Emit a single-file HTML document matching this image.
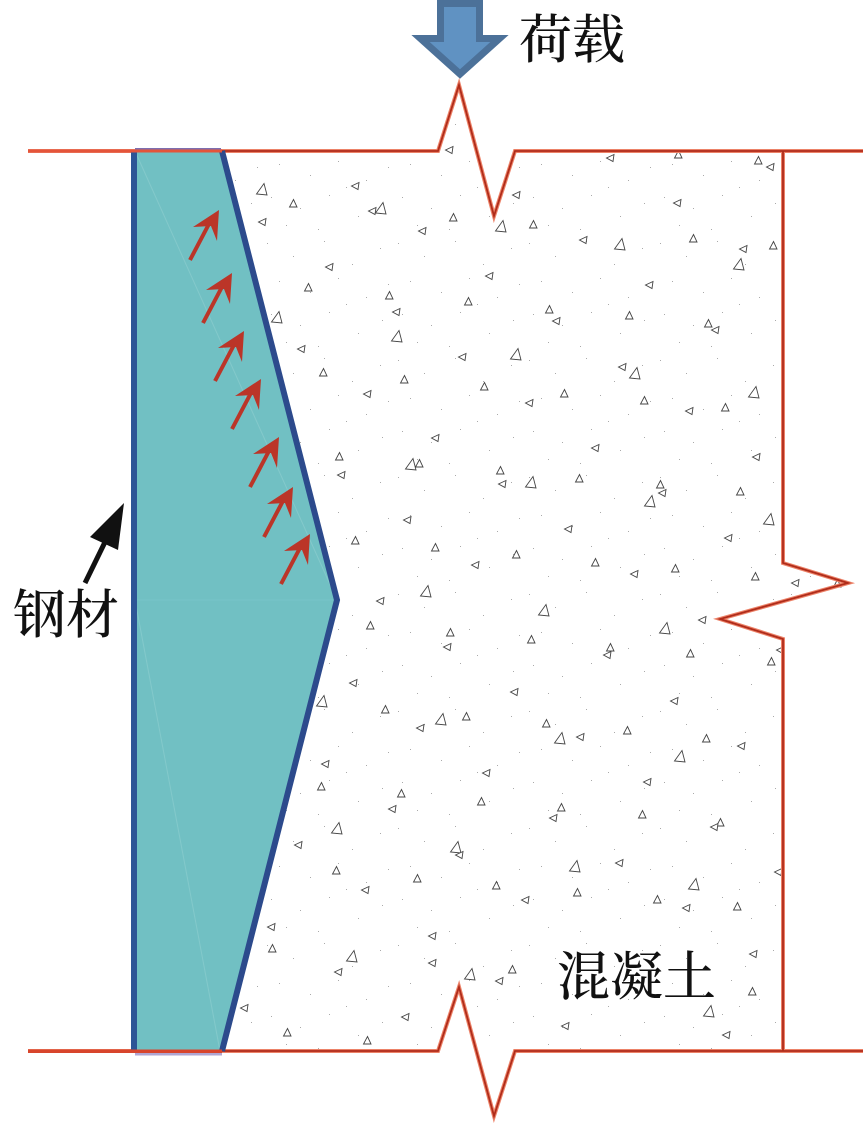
<!DOCTYPE html>
<html><head><meta charset="utf-8"><style>html,body{margin:0;padding:0;background:#fff;width:863px;height:1123px;overflow:hidden}svg{display:block}text{font-family:"Liberation Serif","Noto Serif CJK SC",serif;font-size:53px;fill:#111;font-weight:500}</style></head><body>
<svg width="863" height="1123" viewBox="0 0 863 1123" xmlns="http://www.w3.org/2000/svg">
<defs>
<path id="a" d="M-4.500 0L3-3.500L2 3.500Z" fill="#fff" stroke="#444" stroke-width=".9"/>
<path id="b" d="M.5-4.500L4 3L-3.500 3Z" fill="#fff" stroke="#444" stroke-width=".9"/>
<path id="c" d="M2-6.500L5 5L-5.500 4Z" fill="#fff" stroke="#444" stroke-width=".9"/>
<pattern id="dots" width="131" height="117" patternUnits="userSpaceOnUse">
<g fill="#aaa"><rect x="5" y="9" width="1" height="1"/><rect x="31" y="22" width="1" height="1"/><rect x="62" y="7" width="1" height="1"/><rect x="90" y="30" width="1" height="1"/><rect x="118" y="14" width="1" height="1"/><rect x="17" y="47" width="1" height="1"/><rect x="48" y="58" width="1" height="1"/><rect x="76" y="44" width="1" height="1"/><rect x="104" y="63" width="1" height="1"/><rect x="126" y="50" width="1" height="1"/><rect x="9" y="80" width="1" height="1"/><rect x="38" y="91" width="1" height="1"/><rect x="67" y="78" width="1" height="1"/><rect x="96" y="99" width="1" height="1"/><rect x="120" y="86" width="1" height="1"/><rect x="24" y="108" width="1" height="1"/><rect x="56" y="112" width="1" height="1"/><rect x="84" y="70" width="1" height="1"/></g>
</pattern>
</defs>
<polygon points="225,153 438,153 459,90 494,216 515,153 782,153 782,563 848,583 720,619 782,639 782,1050 515,1050 494,1116 459,987 438,1050 222,1050 338,600" fill="url(#dots)"/>
<g>
<use href="#a" x="450" y="150"/><use href="#a" x="611" y="158"/><use href="#b" x="678" y="155"/><use href="#b" x="758" y="161"/><use href="#a" x="771" y="167"/><use href="#c" x="262" y="190"/><use href="#a" x="356" y="186"/><use href="#b" x="293" y="204"/><use href="#c" x="381" y="209"/><use href="#a" x="373" y="211"/><use href="#a" x="678" y="203"/><use href="#a" x="517" y="195"/><use href="#a" x="263" y="222"/><use href="#b" x="453" y="218"/><use href="#a" x="423" y="231"/><use href="#c" x="501" y="227"/><use href="#b" x="533" y="225"/><use href="#a" x="584" y="240"/><use href="#c" x="620" y="245"/><use href="#b" x="693" y="239"/><use href="#a" x="744" y="249"/><use href="#b" x="773" y="246"/><use href="#a" x="330" y="267"/><use href="#c" x="739" y="265"/><use href="#a" x="490" y="276"/><use href="#b" x="308" y="288"/><use href="#a" x="650" y="285"/><use href="#b" x="389" y="296"/><use href="#b" x="468" y="302"/><use href="#a" x="397" y="312"/><use href="#b" x="549" y="310"/><use href="#a" x="557" y="321"/><use href="#b" x="629" y="316"/><use href="#b" x="708" y="324"/><use href="#a" x="716" y="330"/><use href="#c" x="277" y="318"/><use href="#c" x="397" y="337"/><use href="#a" x="302" y="349"/><use href="#c" x="516" y="355"/><use href="#a" x="463" y="357"/><use href="#a" x="623" y="367"/><use href="#c" x="635" y="374"/><use href="#b" x="323" y="373"/><use href="#b" x="404" y="380"/><use href="#b" x="484" y="387"/><use href="#a" x="368" y="394"/><use href="#b" x="564" y="394"/><use href="#a" x="530" y="403"/><use href="#b" x="644" y="401"/><use href="#c" x="754" y="393"/><use href="#a" x="690" y="411"/><use href="#b" x="725" y="408"/><use href="#a" x="436" y="438"/><use href="#a" x="596" y="448"/><use href="#b" x="339" y="457"/><use href="#c" x="411" y="465"/><use href="#b" x="419" y="464"/><use href="#a" x="757" y="457"/><use href="#b" x="500" y="471"/><use href="#a" x="342" y="475"/><use href="#a" x="503" y="484"/><use href="#c" x="531" y="483"/><use href="#b" x="579" y="479"/><use href="#b" x="660" y="485"/><use href="#a" x="663" y="493"/><use href="#c" x="650" y="502"/><use href="#b" x="740" y="492"/><use href="#a" x="408" y="520"/><use href="#a" x="569" y="529"/><use href="#c" x="769" y="520"/><use href="#a" x="729" y="538"/><use href="#b" x="355" y="541"/><use href="#b" x="435" y="548"/><use href="#b" x="516" y="555"/><use href="#a" x="476" y="565"/><use href="#b" x="595" y="563"/><use href="#a" x="635" y="574"/><use href="#b" x="675" y="569"/><use href="#b" x="755" y="577"/><use href="#a" x="796" y="583"/><use href="#b" x="837" y="584"/><use href="#c" x="426" y="592"/><use href="#a" x="381" y="601"/><use href="#c" x="544" y="611"/><use href="#a" x="703" y="620"/><use href="#b" x="370" y="626"/><use href="#c" x="665" y="629"/><use href="#b" x="450" y="633"/><use href="#a" x="448" y="647"/><use href="#b" x="531" y="640"/><use href="#b" x="610" y="648"/><use href="#a" x="608" y="655"/><use href="#b" x="690" y="654"/><use href="#a" x="781" y="650"/><use href="#b" x="771" y="662"/><use href="#a" x="354" y="683"/><use href="#a" x="515" y="692"/><use href="#c" x="322" y="702"/><use href="#a" x="675" y="701"/><use href="#b" x="385" y="710"/><use href="#c" x="441" y="720"/><use href="#b" x="466" y="717"/><use href="#a" x="421" y="728"/><use href="#b" x="546" y="724"/><use href="#c" x="560" y="739"/><use href="#a" x="581" y="737"/><use href="#b" x="627" y="731"/><use href="#b" x="706" y="739"/><use href="#a" x="742" y="746"/><use href="#c" x="680" y="757"/><use href="#a" x="326" y="764"/><use href="#a" x="487" y="773"/><use href="#a" x="648" y="782"/><use href="#b" x="321" y="787"/><use href="#b" x="401" y="794"/><use href="#b" x="481" y="802"/><use href="#a" x="393" y="809"/><use href="#b" x="561" y="808"/><use href="#a" x="554" y="818"/><use href="#b" x="642" y="815"/><use href="#b" x="720" y="823"/><use href="#a" x="715" y="827"/><use href="#c" x="337" y="829"/><use href="#c" x="456" y="848"/><use href="#a" x="460" y="855"/><use href="#a" x="299" y="845"/><use href="#a" x="620" y="863"/><use href="#c" x="575" y="867"/><use href="#b" x="336" y="871"/><use href="#b" x="417" y="879"/><use href="#a" x="366" y="890"/><use href="#b" x="496" y="886"/><use href="#b" x="577" y="893"/><use href="#c" x="694" y="885"/><use href="#a" x="779" y="872"/><use href="#b" x="657" y="900"/><use href="#a" x="526" y="900"/><use href="#a" x="687" y="908"/><use href="#b" x="737" y="907"/><use href="#a" x="272" y="927"/><use href="#a" x="433" y="936"/><use href="#b" x="272" y="949"/><use href="#c" x="352" y="957"/><use href="#a" x="754" y="954"/><use href="#a" x="339" y="972"/><use href="#a" x="433" y="963"/><use href="#b" x="512" y="970"/><use href="#c" x="470" y="975"/><use href="#a" x="500" y="981"/><use href="#b" x="752" y="992"/><use href="#a" x="245" y="1008"/><use href="#c" x="709" y="1012"/><use href="#a" x="406" y="1017"/><use href="#a" x="566" y="1026"/><use href="#b" x="287" y="1033"/><use href="#b" x="367" y="1041"/><use href="#a" x="727" y="1035"/>
</g>
<g fill="none" stroke-linejoin="miter" stroke-miterlimit="10">
<g stroke="#ec8268" stroke-width="4">
<polyline points="28,151 438,151 459,85 494,216 515,151 863,151"/>
<polyline points="783,151 783,563 848,583 720,619 783,639 783,1051"/>
<polyline points="28,1051 438,1051 459,987 494,1116 515,1051 863,1051"/>
</g>
<g stroke="#b02c1a" stroke-width="1.800">
<polyline points="28,151 438,151 459,85 494,216 515,151 863,151"/>
<polyline points="783,151 783,563 848,583 720,619 783,639 783,1051"/>
<polyline points="28,1051 438,1051 459,987 494,1116 515,1051 863,1051"/>
</g>
</g>
<polygon points="135,151 220,151 337,600 220,1051 135,1051" fill="#71c0c3"/>
<g stroke="#9fd8d8" stroke-width="1" fill="none" opacity=".4">
<line x1="135" y1="151" x2="337" y2="600"/>
<line x1="135" y1="600" x2="220" y2="1051"/>
</g>
<line x1="135" y1="600" x2="337" y2="600" stroke="#78c5c8" stroke-width="1"/>
<line x1="134" y1="150" x2="134" y2="1052" stroke="#2d5596" stroke-width="6"/>
<polyline points="222,151 337,600 222,1051" fill="none" stroke="#2c4a8c" stroke-width="6" stroke-miterlimit="10"/>
<rect x="135" y="148" width="86" height="2" fill="#7d6fb0"/>
<rect x="135" y="1053" width="87" height="2.500" fill="#b0a6d2"/>
<rect x="28" y="149.500" width="194" height="3" fill="#e4543a"/>
<rect x="28" y="1049.500" width="194" height="3.500" fill="#d8452c"/>
<g fill="#bb3528" stroke="#bb3528">
<g transform="translate(219,210)"><path d="M-9 12L-29 50" fill="none" stroke-width="4"/><path d="M0 0L-26 17L-8 16L-2 31Z" stroke="none"/></g>
<g transform="translate(232,273)"><path d="M-9 12L-29 50" fill="none" stroke-width="4"/><path d="M0 0L-26 17L-8 16L-2 31Z" stroke="none"/></g>
<g transform="translate(244,331)"><path d="M-9 12L-29 50" fill="none" stroke-width="4"/><path d="M0 0L-26 17L-8 16L-2 31Z" stroke="none"/></g>
<g transform="translate(261,379)"><path d="M-9 12L-29 50" fill="none" stroke-width="4"/><path d="M0 0L-26 17L-8 16L-2 31Z" stroke="none"/></g>
<g transform="translate(279,437)"><path d="M-9 12L-29 50" fill="none" stroke-width="4"/><path d="M0 0L-26 17L-8 16L-2 31Z" stroke="none"/></g>
<g transform="translate(293,487)"><path d="M-9 12L-29 50" fill="none" stroke-width="4"/><path d="M0 0L-26 17L-8 16L-2 31Z" stroke="none"/></g>
<g transform="translate(310,534)"><path d="M-9 12L-29 50" fill="none" stroke-width="4"/><path d="M0 0L-26 17L-8 16L-2 31Z" stroke="none"/></g>
</g>
<line x1="85" y1="583" x2="106" y2="540" stroke="#111" stroke-width="5"/>
<polygon points="124,503 90,537 118,550" fill="#111"/>
<polygon points="440.500,3.500 479.500,3.500 479.500,38.500 499.500,38.500 460,74 420.500,38.500 440.500,38.500" fill="#6092c2" stroke="#4c7199" stroke-width="7" stroke-miterlimit="10"/>
<text x="519" y="58">荷载</text>
<text x="13" y="633">钢材</text>
<text x="557" y="995">混凝土</text>
</svg>
</body></html>
